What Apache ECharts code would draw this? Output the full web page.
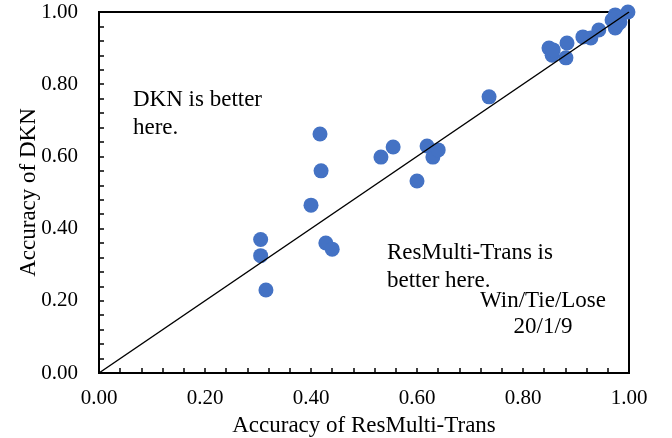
<!DOCTYPE html>
<html>
<head>
<meta charset="utf-8">
<script src="https://cdn.jsdelivr.net/npm/echarts@6/dist/echarts.min.js"></script>
<style>html,body{margin:0;padding:0;background:#fff}#c{width:672px;height:438px}</style>
</head>
<body>
<div id="c"></div>
<script>
const resMultiTrans = [0.305,0.305,0.315,0.40,0.417,0.419,0.428,0.44,0.532,0.555,0.60,0.619,0.63,0.64,0.736,0.849,0.855,0.857,0.883,0.881,0.913,0.928,0.943,0.974,0.975,0.974,0.968,0.983,0.978,0.998];
const dkn          = [0.37,0.325,0.23,0.465,0.662,0.56,0.36,0.343,0.598,0.626,0.532,0.629,0.598,0.618,0.765,0.90,0.88,0.895,0.914,0.873,0.931,0.928,0.95,0.992,0.985,0.956,0.978,0.972,0.965,1.0];
const diagonal = [[0,0],[1,1]];
const xTitle = 'Accuracy of ResMulti-Trans';
const yTitle = 'Accuracy of DKN';

const font = 'Liberation Serif, Times New Roman, serif';
const chart = echarts.init(document.getElementById('c'));
const axisCommon = {
  min: 0, max: 1, interval: 0.2,
  axisLine: {show: true, lineStyle: {color: '#000', width: 2}},
  axisTick: {show: true, inside: true, length: 5, lineStyle: {color: '#000', width: 1.5}},
  minorTick: {show: true, splitNumber: 5, length: 5, lineStyle: {color: '#000', width: 1.5}},
  splitLine: {show: false},
  axisLabel: {color: '#000', fontFamily: font, fontSize: 21, formatter: v => v.toFixed(2)},
  nameLocation: 'middle',
  nameMoveOverlap: false,
  nameTextStyle: {color: '#000', fontFamily: font, fontSize: 23}
};
chart.setOption({
  animation: false,
  grid: {left: 99, right: 43, top: 12, bottom: 65, show: true, borderColor: '#000', borderWidth: 2,
         containLabel: false, outerBoundsMode: 'none'},
  xAxis: Object.assign({}, axisCommon, {type: 'value', name: xTitle, nameGap: 41,
    axisLabel: Object.assign({}, axisCommon.axisLabel, {margin: 15})}),
  yAxis: Object.assign({}, axisCommon, {type: 'value', name: yTitle, nameGap: 59,
    axisLabel: Object.assign({}, axisCommon.axisLabel, {margin: 21})}),
  series: [
    {type: 'scatter', data: resMultiTrans.map((x, i) => [x, dkn[i]]), symbolSize: 15,
     itemStyle: {color: '#4472C4', opacity: 1}, z: 2},
    {type: 'line', data: diagonal, symbol: 'none', lineStyle: {color: '#000', width: 1.5}, z: 3}
  ],
  graphic: [
    {type: 'text', x: 133, y: 114, style: {text: 'DKN is better\nhere.', font: '23px ' + font, fill: '#000', lineHeight: 28, verticalAlign: 'middle'}},
    {type: 'text', x: 387, y: 267, style: {text: 'ResMulti-Trans is\nbetter here.', font: '23px ' + font, fill: '#000', lineHeight: 28, verticalAlign: 'middle'}},
    {type: 'text', x: 543, y: 314, style: {text: 'Win/Tie/Lose\n20/1/9', font: '23px ' + font, fill: '#000', lineHeight: 26, align: 'center', verticalAlign: 'middle'}}
  ]
});
</script>
</body>
</html>
